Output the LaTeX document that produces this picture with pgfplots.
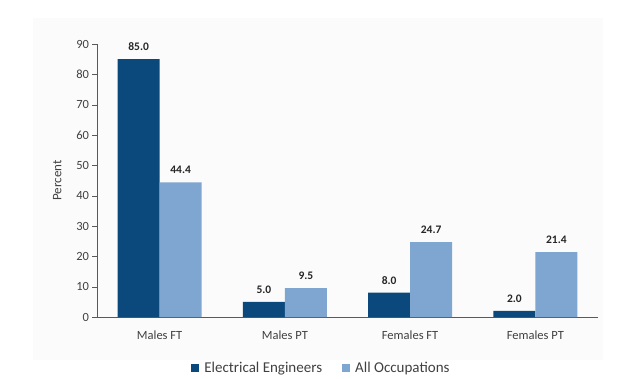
\documentclass[border=0pt]{standalone}
\usepackage{pgfplots}
\pgfplotsset{compat=1.18}
\usepackage{fontspec}
\setmainfont{Carlito}
\definecolor{darkb}{HTML}{0B497D}
\definecolor{lightb}{HTML}{7FA5D1}
\definecolor{txt}{HTML}{404040}
\definecolor{bgc}{HTML}{FAFBFA}
\begin{document}
\begin{tikzpicture}[x=1pt,y=1pt]
\fill[bgc] (-64,-43) rectangle (506,299);
\begin{axis}[
  name=ax,
  scale only axis, width=501pt, height=273pt,
  /pgf/number format/assume math mode=true,
  xmin=-0.5, xmax=3.5, ymin=0, ymax=90,
  ytick={0,10,...,90},
  xtick={0,1,2,3},
  xticklabels={Males FT, Males PT, Females FT, Females PT},
  x tick style={draw=none},
  extra x ticks={-0.5,0.5,1.5,2.5,3.5},
  extra x tick labels={},
  extra x tick style={major tick length=5pt, draw=black!65, tick align=outside},
  axis x line*=bottom, axis y line*=left,
  axis line style={black!65, line width=0.8pt},
  y axis line style={-}, x axis line style={-},
  tick align=outside, major tick length=4.5pt,
  y tick style={draw=black!65},
  tick label style={font=\fontsize{12.5}{13}\selectfont, text=txt},
  xticklabel style={yshift=-6pt},
  ylabel={Percent},
  ylabel style={font=\fontsize{13}{14}\selectfont, text=txt, yshift=8pt},
  ybar=0pt, bar width=42pt,
  nodes near coords,
  nodes near coords style={font=\fontsize{11.5}{12}\selectfont\bfseries, text=black!85, yshift=5pt,
    /pgf/number format/fixed, /pgf/number format/fixed zerofill, /pgf/number format/precision=1},
  legend style={at={(0.448,-0.15)}, anchor=north, legend columns=2, draw=none, fill=none,
    font=\fontsize{15}{16}\selectfont, text=txt,
    /tikz/every odd column/.append style={column sep=3pt},
    /tikz/every even column/.append style={column sep=18pt}},
  legend image code/.code={\fill[#1] (0pt,-4pt) rectangle (8pt,4pt);},
]
\addplot[fill=darkb, draw=none] coordinates {(0,85.0) (1,5.0) (2,8.0) (3,2.0)};
\addplot[fill=lightb, draw=none] coordinates {(0,44.4) (1,9.5) (2,24.7) (3,21.4)};
\legend{Electrical Engineers, All Occupations}
\end{axis}
\pgfresetboundingbox
\path[use as bounding box] (ax.south west) ++(-97pt,-61pt) rectangle ++(640pt,378pt);
\end{tikzpicture}
\end{document}
